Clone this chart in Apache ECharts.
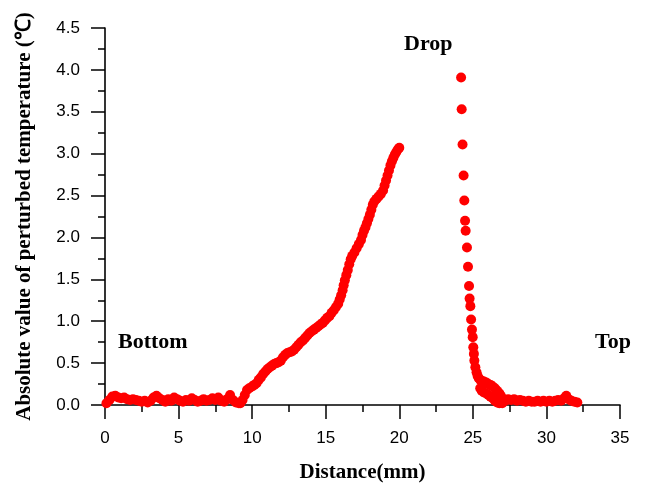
<!DOCTYPE html>
<html>
<head>
<meta charset="utf-8">
<script src="https://cdn.jsdelivr.net/npm/echarts@6/dist/echarts.min.js"></script>
<style>
  html, body { margin: 0; padding: 0; background: #ffffff; }
  #chart { width: 646px; height: 488px; }
</style>
</head>
<body>
<div id="chart"></div>
<script>
// Bottom region: near-zero noise along the wall
const bottomX = [0.1, 0.3, 0.5, 0.7, 0.9, 1.1, 1.3, 1.5, 1.7, 1.9, 2.1, 2.3, 2.5, 2.7, 2.9, 3.1, 3.3, 3.5, 3.7, 3.9,
  4.1, 4.3, 4.5, 4.7, 4.9, 5.1, 5.3, 5.5, 5.7, 5.9, 6.1, 6.3, 6.5, 6.7, 6.9, 7.1, 7.3, 7.5, 7.7, 7.9,
  8.1, 8.3, 8.5, 8.7, 8.9, 9.1];
const bottomY = [0.02, 0.06, 0.10, 0.11, 0.09, 0.08, 0.09, 0.07, 0.06, 0.07, 0.06, 0.05, 0.04, 0.05, 0.03, 0.05, 0.09, 0.11, 0.08, 0.06,
  0.04, 0.07, 0.05, 0.09, 0.07, 0.05, 0.04, 0.06, 0.05, 0.08, 0.06, 0.04, 0.05, 0.07, 0.05, 0.06, 0.08, 0.06, 0.09, 0.05,
  0.04, 0.07, 0.12, 0.06, 0.03, 0.02];

// Rising region below the drop
const riseX = [9.2, 9.35, 9.5, 9.65, 9.8, 10.0, 10.15, 10.3, 10.45, 10.6, 10.75, 10.9, 11.05, 11.2, 11.35, 11.5, 11.65, 11.8, 11.95,
  12.1, 12.25, 12.4, 12.55, 12.7, 12.85, 13.0, 13.15, 13.3, 13.45, 13.6, 13.75, 13.9, 14.05, 14.2, 14.35, 14.5, 14.65, 14.8, 14.95,
  15.1, 15.25, 15.4, 15.55, 15.7, 15.85, 15.95, 16.05, 16.15, 16.22, 16.3, 16.4, 16.5, 16.6, 16.7, 16.8, 16.95, 17.1, 17.25, 17.4,
  17.5, 17.6, 17.7, 17.8, 17.9, 18.0, 18.1, 18.2, 18.3, 18.45, 18.6, 18.75, 18.9, 19.0, 19.1, 19.2, 19.3, 19.4, 19.5, 19.6,
  19.7, 19.8, 19.9, 20.0];
const riseY = [0.02, 0.06, 0.12, 0.18, 0.20, 0.22, 0.24, 0.26, 0.30, 0.33, 0.37, 0.40, 0.43, 0.45, 0.47, 0.49, 0.50, 0.51, 0.53,
  0.57, 0.60, 0.62, 0.63, 0.64, 0.66, 0.69, 0.72, 0.75, 0.77, 0.80, 0.83, 0.86, 0.88, 0.90, 0.92, 0.94, 0.96, 0.98, 1.01,
  1.04, 1.06, 1.10, 1.13, 1.17, 1.21, 1.26, 1.31, 1.37, 1.43, 1.49, 1.55, 1.61, 1.68, 1.74, 1.78, 1.82, 1.87, 1.92, 1.97,
  2.03, 2.08, 2.12, 2.17, 2.22, 2.27, 2.33, 2.39, 2.43, 2.46, 2.49, 2.52, 2.56, 2.62, 2.68, 2.74, 2.80, 2.86, 2.91, 2.95,
  2.99, 3.02, 3.05, 3.07];

// Region above the drop toward the top wall
const topX = [24.2, 24.24, 24.3, 24.37, 24.42, 24.47, 24.51, 24.6, 24.67, 24.74, 24.78, 24.83, 24.88, 24.94, 24.99, 25.03, 25.07,
  25.1, 25.17, 25.25, 25.32, 25.4, 25.5, 25.6, 25.75, 25.9, 26.05, 26.2, 26.35, 26.5, 26.65, 26.8, 26.9, 27.0,
  25.5, 25.6, 25.75, 25.9, 26.05, 26.2, 26.35, 26.5, 26.65, 26.8, 27.0, 27.2,
  27.4, 27.6, 27.8, 28.0, 28.2, 28.4, 28.6, 28.8, 29.0, 29.2, 29.4, 29.6, 29.8, 30.0, 30.2, 30.4, 30.6, 30.8, 31.0,
  31.2, 31.35, 31.5, 31.7, 31.9, 32.1];
const topY = [3.91, 3.53, 3.11, 2.74, 2.44, 2.20, 2.08, 1.88, 1.65, 1.42, 1.27, 1.18, 1.02, 0.90, 0.81, 0.69, 0.61,
  0.53, 0.45, 0.39, 0.35, 0.32, 0.30, 0.29, 0.28, 0.27, 0.25, 0.24, 0.22, 0.20, 0.17, 0.14, 0.11, 0.08,
  0.20, 0.17, 0.15, 0.14, 0.12, 0.10, 0.08, 0.05, 0.03, 0.02, 0.02, 0.05,
  0.07, 0.06, 0.07, 0.05, 0.06, 0.05, 0.04, 0.05, 0.04, 0.04, 0.05, 0.04, 0.05, 0.04, 0.05, 0.04, 0.05, 0.06, 0.05,
  0.08, 0.11, 0.07, 0.05, 0.04, 0.03];

// Axis tick labels
const xTicks = [0, 5, 10, 15, 20, 25, 30, 35];
const yTicks = ['0.0', '0.5', '1.0', '1.5', '2.0', '2.5', '3.0', '3.5', '4.0', '4.5'];

const zip = (xs, ys) => xs.map((x, i) => [x, ys[i]]);
const points = [].concat(zip(bottomX, bottomY), zip(riseX, riseY), zip(topX, topY));

const chart = echarts.init(document.getElementById('chart'), null, { renderer: 'canvas' });

const axisLine = { show: true, onZero: false, lineStyle: { color: '#000', width: 1.6 } };
const majorTick = { show: true, inside: false, length: 14, lineStyle: { color: '#000', width: 1.5 } };
const minorTick = { show: true, splitNumber: 2, length: 7, lineStyle: { color: '#000', width: 1.5 } };
const tickFont = { fontFamily: 'Liberation Sans, Arial, sans-serif', fontSize: 17, color: '#000' };
const nameFont = { fontFamily: 'Liberation Serif, Times New Roman, serif', fontWeight: 'bold', fontSize: 21, color: '#000' };
const noteFont = { fontFamily: 'Liberation Serif, Times New Roman, serif', fontWeight: 'bold', fontSize: 22, fill: '#000' };

chart.setOption({
  animation: false,
  backgroundColor: '#ffffff',
  grid: { left: 105, right: 26, top: 28, bottom: 80 },
  xAxis: {
    type: 'value',
    min: 0, max: 35, interval: 5,
    name: 'Distance(mm)',
    nameLocation: 'middle',
    nameGap: 57,
    nameTextStyle: nameFont,
    axisLine: axisLine,
    axisTick: majorTick,
    minorTick: minorTick,
    splitLine: { show: false },
    axisLabel: Object.assign({ margin: 25, formatter: v => xTicks.includes(v) ? String(v) : '' }, tickFont)
  },
  yAxis: {
    type: 'value',
    min: 0, max: 4.5, interval: 0.5,
    name: 'Absolute value of perturbed temperature (\u2103)',
    nameLocation: 'middle',
    nameGap: 70,
    nameRotate: 90,
    nameTextStyle: nameFont,
    axisLine: axisLine,
    axisTick: majorTick,
    minorTick: minorTick,
    splitLine: { show: false },
    axisLabel: Object.assign({ margin: 25, formatter: v => yTicks[Math.round(v / 0.5)] }, tickFont)
  },
  series: [{
    type: 'scatter',
    data: points,
    symbol: 'circle',
    symbolSize: 10,
    itemStyle: { color: '#ff0000', opacity: 1 },
    clip: false
  }],
  graphic: [
    { type: 'text', left: 118, top: 331, style: Object.assign({ text: 'Bottom' }, noteFont) },
    { type: 'text', left: 404, top: 33, style: Object.assign({ text: 'Drop' }, noteFont) },
    { type: 'text', left: 595, top: 331, style: Object.assign({ text: 'Top' }, noteFont) }
  ]
});
</script>
</body>
</html>
